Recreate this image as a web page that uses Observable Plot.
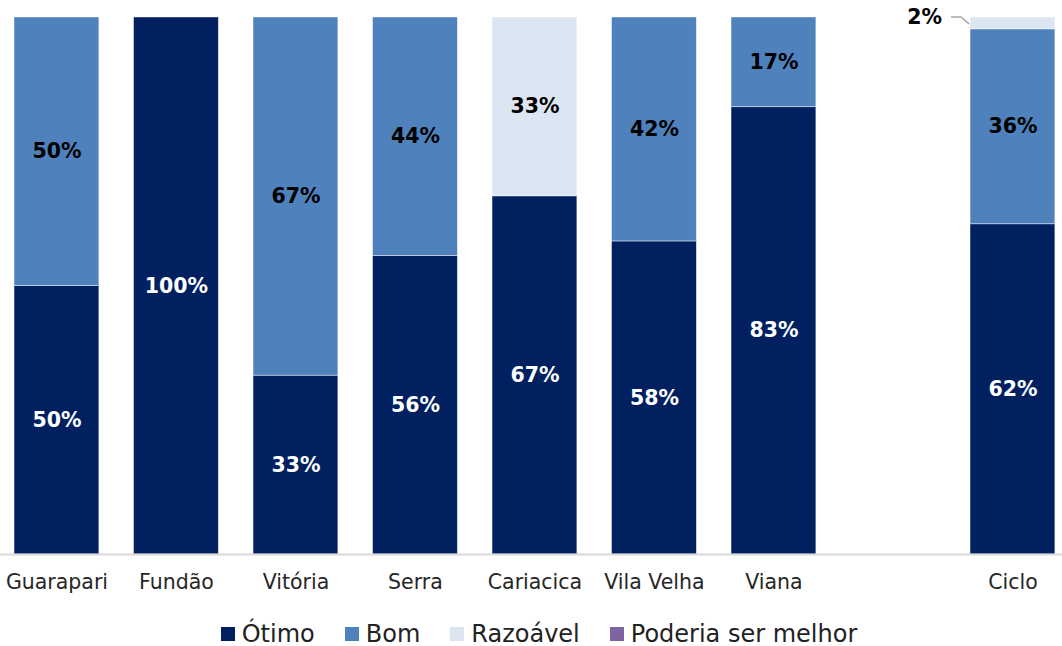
<!DOCTYPE html>
<html>
<head>
<meta charset="utf-8">
<script src="https://cdn.jsdelivr.net/npm/d3@7"></script>
<script src="https://cdn.jsdelivr.net/npm/@observablehq/plot@0.6"></script>
<style>
  html, body { margin: 0; padding: 0; background: #fff; }
  body { width: 1062px; height: 646px; overflow: hidden; font-family: "DejaVu Sans", sans-serif; }
  #legend { display: flex; justify-content: center; align-items: center; gap: 30px; height: 46px; margin-top: 11px; font-size: 24px; color: #222; padding-left: 16px; }
  #legend .item { display: flex; align-items: center; gap: 7px; }
  #legend .sw { width: 14px; height: 14px; display: inline-block; }
</style>
</head>
<body>
<div id="chart"></div>
<div id="legend"></div>
<script>
const categories = ["Guarapari", "Fundão", "Vitória", "Serra", "Cariacica", "Vila Velha", "Viana", " ", "Ciclo"];
const series = ["Ótimo", "Bom", "Razoável", "Poderia ser melhor"];
const colors = ["#002060", "#4F81BD", "#DCE6F2", "#8064A2"];
const otimo    = [50, 100, 33.3, 55.6, 66.7, 58.3, 83.3, null, 61.5];
const bom      = [50, 0, 66.7, 44.4, 0, 41.7, 16.7, null, 36.3];
const razoavel = [0, 0, 0, 0, 33.3, 0, 0, null, 2.2];
const poderia  = [0, 0, 0, 0, 0, 0, 0, null, 0];

const seriesValues = [otimo, bom, razoavel, poderia];
const data = [];
categories.forEach((c, i) => {
  seriesValues.forEach((vals, s) => {
    const v = vals[i];
    if (v != null && v > 0) data.push({cat: c, series: series[s], value: v});
  });
});

const labelColor = {"Ótimo": "#fff", "Bom": "#000", "Razoável": "#000", "Poderia ser melhor": "#fff"};
const fmt = v => Math.round(v) + "%";
const inside = data.filter(d => d.value >= 5);
const outside = data.filter(d => d.value < 5);

const plot = Plot.plot({
  width: 1062,
  height: 600,
  marginTop: 17,
  marginBottom: 46,
  marginLeft: 0,
  marginRight: 0,
  style: {fontFamily: "DejaVu Sans, sans-serif", background: "#fff"},
  x: {domain: categories, range: [-3.3, 1072.2], paddingInner: 0.29, paddingOuter: 0.145, round: false, label: null},
  y: {domain: [0, 100], axis: null},
  color: {domain: series, range: colors},
  marks: [
    Plot.barY(data, Plot.stackY({x: "cat", y: "value", fill: "series", order: series, stroke: "#ffffff", strokeOpacity: 0.55, strokeWidth: 0.8})),
    Plot.text(inside, Plot.stackY({x: "cat", y: "value", z: "series", order: series, text: d => fmt(d.value), fill: d => labelColor[d.series], fontSize: 20.5, fontWeight: "bold"})),
    Plot.ruleY([0], {stroke: "#d9d9d9", strokeWidth: 2}),
    Plot.axisX({tickSize: 0, tickPadding: 20, fontSize: 20.5, fill: "#262626", label: null})
  ]
});
document.getElementById("chart").appendChild(plot);

// Outside label with leader line for small segments, placed via the plot scales
const xs = plot.scale("x");
const ys = plot.scale("y");
const ns = "http://www.w3.org/2000/svg";
const svg = plot.tagName === "svg" ? plot : plot.querySelector("svg");
outside.forEach(d => {
  const idx = categories.indexOf(d.cat);
  const below = seriesValues.slice(0, series.indexOf(d.series)).reduce((a, arr) => a + (arr[idx] || 0), 0);
  const x0 = xs.apply(d.cat);
  const yTop = ys.apply(below + d.value);
  const yMid = ys.apply(below + d.value / 2);
  const path = document.createElementNS(ns, "path");
  path.setAttribute("d", `M${x0 - 19},${yTop} L${x0 - 9},${yTop} L${x0 - 1},${yMid + 1}`);
  path.setAttribute("fill", "none");
  path.setAttribute("stroke", "#a6a6a6");
  path.setAttribute("stroke-width", "1.5");
  svg.appendChild(path);
  const t = document.createElementNS(ns, "text");
  t.setAttribute("x", x0 - 28);
  t.setAttribute("y", yTop + 1);
  t.setAttribute("text-anchor", "end");
  t.setAttribute("dominant-baseline", "middle");
  t.setAttribute("font-size", "20.5");
  t.setAttribute("font-weight", "bold");
  t.setAttribute("font-family", "DejaVu Sans, sans-serif");
  t.textContent = fmt(d.value);
  svg.appendChild(t);
});

const legend = document.getElementById("legend");
series.forEach((s, i) => {
  const item = document.createElement("div");
  item.className = "item";
  const sw = document.createElement("span");
  sw.className = "sw";
  sw.style.background = colors[i];
  const lab = document.createElement("span");
  lab.textContent = s;
  item.appendChild(sw);
  item.appendChild(lab);
  legend.appendChild(item);
});
</script>
</body>
</html>
